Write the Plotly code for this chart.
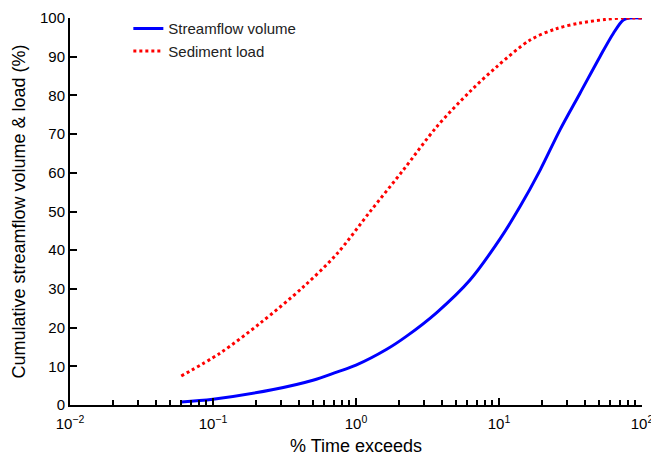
import plotly.graph_objects as go

# % time exceeds (log scale)
flow_x = [0.06, 0.1, 0.264, 0.5, 0.733, 1.0, 1.64, 2.26, 3.67, 6.27, 10.2, 14.0, 19.4, 26.7, 36.8, 50.8, 63.0, 74.0, 82.0, 100.0]
flow_y = [0.8, 1.5, 4.0, 6.4, 8.5, 10.3, 14.4, 17.8, 23.9, 32.3, 43.0, 51.2, 60.7, 71.1, 80.5, 90.0, 96.0, 99.5, 100.0, 100.0]

sed_x = [0.06, 0.112, 0.213, 0.428, 0.733, 1.25, 2.14, 3.67, 6.27, 9.64, 16.5, 25.0, 36.8, 55.0, 73.6, 100.0]
sed_y = [7.5, 13.4, 21.1, 30.5, 39.0, 49.9, 60.7, 71.9, 81.0, 87.4, 94.3, 97.2, 98.7, 99.6, 100.0, 100.0]

x_tickvals = [0.01, 0.1, 1, 10, 100]
x_ticktext = ["10<sup>\u22122</sup>", "10<sup>\u22121</sup>", "10<sup>0</sup>", "10<sup>1</sup>", "10<sup>2</sup>"]
x_minor = [m * d for d in (0.01, 0.1, 1, 10) for m in range(2, 10)]

fig = go.Figure()
fig.add_trace(go.Scatter(x=flow_x, y=flow_y, mode="lines", name="Streamflow volume",
                         line=dict(color="#0000ff", width=3, shape="spline", smoothing=0.9)))
fig.add_trace(go.Scatter(x=sed_x, y=sed_y, mode="lines", name="Sediment load",
                         line=dict(color="#ff0000", width=3, dash="dot", shape="spline", smoothing=0.9)))

fam = "Liberation Sans, Arial, sans-serif"
fig.update_layout(
    width=651, height=456,
    margin=dict(l=70, r=9, t=0, b=51),
    paper_bgcolor="white", plot_bgcolor="white",
    font=dict(family=fam, size=15, color="#000000"),
    showlegend=True,
    legend=dict(x=0.102, y=0.97, xanchor="left", yanchor="top", bgcolor="rgba(0,0,0,0)",
                font=dict(family=fam, size=15, color="#222222"), itemwidth=30, tracegroupgap=3),
    xaxis=dict(type="log", range=[-2, 2.0001], tickmode="array", tickvals=x_tickvals, ticktext=x_ticktext,
               showgrid=False, showline=True, linecolor="black", linewidth=2, ticks="inside", ticklen=7,
               tickwidth=2, tickcolor="black", zeroline=False, mirror=False, automargin=False,
               ticklabelstandoff=4, ticklabeloverflow="allow",
               minor=dict(tickmode="array", tickvals=x_minor, ticks="inside", ticklen=5, tickwidth=2,
                          tickcolor="black", showgrid=False),
               title=dict(text="% Time exceeds", standoff=16)),
    yaxis=dict(range=[0, 100], dtick=10, domain=[0, 387 / 405], showgrid=False, showline=True,
               linecolor="black", linewidth=2, automargin=False,
               ticks="inside", ticklen=7, tickwidth=2, tickcolor="black", zeroline=False,
               title=dict(text="Cumulative streamflow volume & load (%)", standoff=10)),
)

fig.write_html("out.html", config={"displayModeBar": False},
               post_script="document.body.style.margin='0';")
